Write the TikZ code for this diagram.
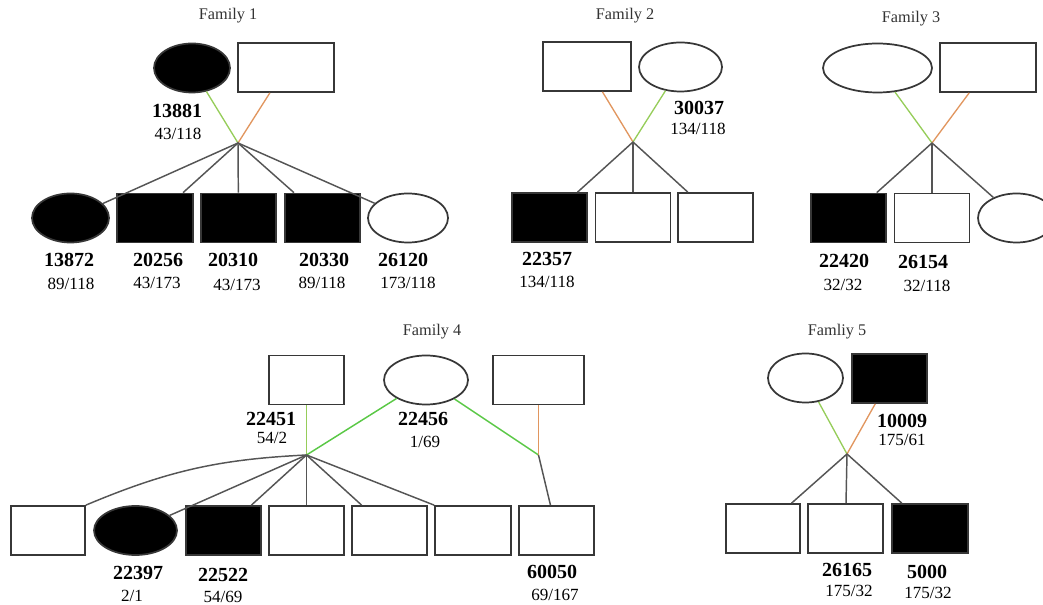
\documentclass[tikz,border=0pt]{standalone}
\usepackage{fontspec}
\setmainfont{Liberation Serif}
\usetikzlibrary{shapes.geometric}
\definecolor{edgec}{RGB}{55,55,55}
\definecolor{kidc}{RGB}{85,85,85}
\definecolor{lgreen}{RGB}{150,205,90}
\definecolor{bgreen}{RGB}{90,200,70}
\definecolor{lorange}{RGB}{225,150,95}
\begin{document}
\begin{tikzpicture}[x=0.75pt,y=-0.75pt,
  pers/.style={draw=edgec, line width=1.3pt, inner sep=0pt, minimum height=49*0.75pt, fill=white},
  malebox/.style={pers, rectangle, minimum width=#1*0.75pt},
  femoval/.style={pers, ellipse, minimum width=#1*0.75pt},
  aff/.style={fill=black},
  kid/.style={draw=kidc, line width=1.1pt},
  gl/.style={draw=lgreen, line width=1pt},
  gb/.style={draw=bgreen, line width=1.1pt},
  ol/.style={draw=lorange, line width=1pt},
  idl/.style={font=\fontsize{15}{15}\selectfont\bfseries, inner sep=0pt},
  ratl/.style={font=\fontsize{12.8}{13}\selectfont, inner sep=0pt},
  ttl/.style={font=\fontsize{12.2}{12}\selectfont, text=black!80, inner sep=0pt},
]
\useasboundingbox (0,0) rectangle (1043,605);
\clip (0,0) rectangle (1043,605);

% ---------------- Family 1
\node[ttl] (t1) at (228,16) {Family 1};
\node[femoval=76, aff] (f1m) at (192,68) {};
\node[malebox=96] (f1f) at (286,67.5) {};
\coordinate (j1) at (238,143);
\node[femoval=77, aff] (f1c1) at (70.5,218) {};
\node[malebox=76, aff] (f1c2) at (155,218) {};
\node[malebox=75, aff] (f1c3) at (238.5,218) {};
\node[malebox=75, aff] (f1c4) at (322.5,218) {};
\node[femoval=80] (f1c5) at (408,218) {};
\draw[gl] (f1m) -- (j1);
\draw[ol] (f1f) -- (j1);
\foreach \c in {f1c1,f1c2,f1c3,f1c4,f1c5} \draw[kid] (j1) -- (\c);
\node[idl] (l13881) at (177,111) {13881};
\node[ratl] (r13881) at (178,134) {43/118};
\node[idl] (l13872) at (69,260) {13872};
\node[ratl] (r13872) at (71,284) {89/118};
\node[idl] (l20256) at (158,260) {20256};
\node[ratl] (r20256) at (157,283) {43/173};
\node[idl] (l20310) at (233,260) {20310};
\node[ratl] (r20310) at (237,285) {43/173};
\node[idl] (l20330) at (324,260) {20330};
\node[ratl] (r20330) at (322,283) {89/118};
\node[idl] (l26120) at (403,260) {26120};
\node[ratl] (r26120) at (408,283) {173/118};

% ---------------- Family 2
\node[ttl] (t2) at (625,16) {Family 2};
\node[malebox=88] (f2f) at (587,66.5) {};
\node[femoval=83] (f2m) at (680.5,67) {};
\coordinate (j2) at (633,142);
\node[malebox=75, aff] (f2c1) at (549.5,217.5) {};
\node[malebox=75] (f2c2) at (633,217.5) {};
\node[malebox=75] (f2c3) at (715.5,217.5) {};
\draw[ol] (f2f) -- (j2);
\draw[gl] (f2m) -- (j2);
\foreach \c in {f2c1,f2c2,f2c3} \draw[kid] (j2) -- (\c);
\node[idl] (l30037) at (699,108) {30037};
\node[ratl] (r30037) at (698,129) {134/118};
\node[idl] (l22357) at (547,259) {22357};
\node[ratl] (r22357) at (547,282) {134/118};

% ---------------- Family 3
\node[ttl] (t3) at (911,19) {Family 3};
\node[femoval=109] (f3m) at (877.5,68) {};
\node[malebox=96] (f3f) at (988,67.5) {};
\coordinate (j3) at (932,143);
\node[malebox=75, aff] (f3c1) at (848.5,218) {};
\node[malebox=75] (f3c2) at (932,218) {};
\node[femoval=77] (f3c3) at (1016.5,218) {};
\draw[gl] (f3m) -- (j3);
\draw[ol] (f3f) -- (j3);
\foreach \c in {f3c1,f3c2,f3c3} \draw[kid] (j3) -- (\c);
\node[idl] (l22420) at (844,261) {22420};
\node[ratl] (r22420) at (843,285) {32/32};
\node[idl] (l26154) at (923,262) {26154};
\node[ratl] (r26154) at (927,286) {32/118};

% ---------------- Family 4
\node[ttl] (t4) at (432,332) {Family 4};
\node[malebox=75] (f4a) at (306.5,380) {};
\node[femoval=84] (f4b) at (426,380) {};
\node[malebox=91] (f4c) at (538.5,380) {};
\coordinate (j4) at (306.5,455);
\coordinate (j5) at (538.5,455);
\node[malebox=74] (f4c1) at (48,530.5) {};
\node[femoval=83, aff] (f4c2) at (135.5,530.5) {};
\node[malebox=75, aff] (f4c3) at (223.5,530.5) {};
\node[malebox=75] (f4c4) at (306.5,530.5) {};
\node[malebox=75] (f4c5) at (389.5,530.5) {};
\node[malebox=76] (f4c6) at (473,530.5) {};
\node[malebox=75] (f4c7) at (556.5,530.5) {};
\draw[gl] (f4a) -- (j4);
\draw[gb] (f4b) -- (j4);
\draw[gb] (f4b) -- (j5);
\draw[ol] (f4c) -- (j5);
\draw[kid] (j5) -- (f4c7);
\draw[kid] (j4) to[bend right=10] (f4c1.north east);
\foreach \c in {f4c2,f4c3,f4c4,f4c5} \draw[kid] (j4) -- (\c);
\draw[kid] (j4) -- (f4c6.north west);
\node[idl] (l22451) at (271,419) {22451};
\node[ratl] (r22451) at (272,438) {54/2};
\node[idl] (l22456) at (423,419) {22456};
\node[ratl] (r22456) at (425,442) {1/69};
\node[idl] (l22397) at (138,573) {22397};
\node[ratl] (r22397) at (132,596) {2/1};
\node[idl] (l22522) at (223,575) {22522};
\node[ratl] (r22522) at (223,597) {54/69};
\node[idl] (l60050) at (552,572) {60050};
\node[ratl] (r60050) at (555,595) {69/167};

% ---------------- Family 5
\node[ttl] (t5) at (837,332) {Famliy 5};
\node[femoval=75] (f5m) at (805.5,378) {};
\node[malebox=75, aff] (f5f) at (889.5,378.5) {};
\coordinate (j6) at (847,454);
\node[malebox=74] (f5c1) at (763,528.5) {};
\node[malebox=75] (f5c2) at (845.5,528.5) {};
\node[malebox=76, aff] (f5c3) at (930,528.5) {};
\draw[gl] (f5m) -- (j6);
\draw[ol] (f5f) -- (j6);
\foreach \c in {f5c1,f5c2,f5c3} \draw[kid] (j6) -- (\c);
\node[idl] (l10009) at (902,421) {10009};
\node[ratl] (r10009) at (902,440) {175/61};
\node[idl] (l26165) at (847,570) {26165};
\node[ratl] (r26165) at (849,591) {175/32};
\node[idl] (l5000) at (927,572) {5000};
\node[ratl] (r5000) at (928,593) {175/32};
\end{tikzpicture}
\end{document}
